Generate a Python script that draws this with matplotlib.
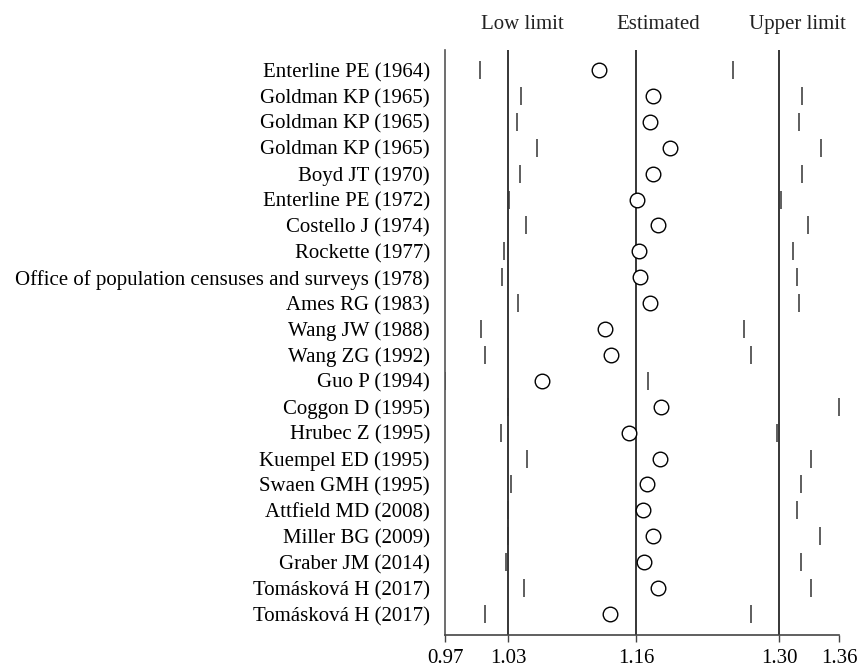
import numpy as np
import matplotlib
matplotlib.use('Agg')
import matplotlib.pyplot as plt

# Data
#######

studies = [
    'Enterline PE (1964)', 'Goldman KP (1965)', 'Goldman KP (1965)',
    'Goldman KP (1965)', 'Boyd JT (1970)', 'Enterline PE (1972)',
    'Costello J (1974)', 'Rockette (1977)',
    'Office of population censuses and surveys (1978)', 'Ames RG (1983)',
    'Wang JW (1988)', 'Wang ZG (1992)', 'Guo P (1994)', 'Coggon D (1995)',
    'Hrubec Z (1995)', 'Kuempel ED (1995)', 'Swaen GMH (1995)',
    'Attfield MD (2008)', 'Miller BG (2009)', 'Graber JM (2014)',
    'Tomásková H (2017)', 'Tomásková H (2017)',
]

low = [1.005, 1.045, 1.041, 1.061, 1.044, 1.033, 1.050, 1.028, 1.026, 1.042,
       1.006, 1.010, 0.970, 1.032, 1.025, 1.051, 1.035, 1.032, 1.032, 1.030,
       1.048, 1.010]
est = [1.122, 1.176, 1.173, 1.193, 1.176, 1.160, 1.181, 1.162, 1.163, 1.173,
       1.128, 1.134, 1.066, 1.184, 1.152, 1.183, 1.170, 1.166, 1.176, 1.167,
       1.181, 1.133]
upp = [1.255, 1.323, 1.320, 1.342, 1.323, 1.303, 1.329, 1.314, 1.318, 1.320,
       1.266, 1.273, 1.171, 1.360, 1.299, 1.332, 1.322, 1.318, 1.341, 1.322,
       1.332, 1.273]

# pooled low / estimated / upper (lines)
pooled = [1.0324, 1.159, 1.301]
pooled_labels = ['Low limit', 'Estimated', 'Upper limit']

tick_pos = [0.97, 1.0324, 1.159, 1.301, 1.36]
tick_labels = ['0.97', '1.03', '1.16', '1.30', '1.36']

# Plot
#######

plt.rcParams['font.family'] = ['Liberation Serif', 'DejaVu Serif']

fig = plt.figure(figsize=(8.58, 6.67), dpi=100)
ax = fig.add_axes([0.5187, 0.048, 0.4592, 0.877])

y = np.arange(len(studies))

for p in pooled:
    ax.axvline(p, color='black', lw=1.1, zorder=1)

ax.plot(low, y, ls='none', marker='|', ms=12.5, mew=1.1, color='#333333', zorder=2)
ax.plot(upp, y, ls='none', marker='|', ms=12.5, mew=1.1, color='#333333', zorder=2)
ax.plot(est, y, ls='none', marker='o', ms=10.5, mew=1.0, mfc='white', mec='black', zorder=3)

# header labels above the lines
for xh, txt in zip([1.0462, 1.1808, 1.3184], pooled_labels):
    ax.text(xh, 1.043, txt, transform=ax.get_xaxis_transform(),
            ha='center', va='center', fontsize=15, color='#222222')

ax.set_xlim(0.97, 1.36)
ax.set_ylim(len(studies) - 1 + 0.81, -0.77)

ax.set_xticks(tick_pos)
ax.set_xticklabels(tick_labels, fontsize=15)
ax.set_yticks(y)
ax.set_yticklabels(studies, fontsize=15)

ax.tick_params(axis='y', length=0, pad=11)
ax.tick_params(axis='x', length=5, width=1, pad=5, color='#444444')

ax.spines['top'].set_visible(False)
ax.spines['right'].set_visible(False)
ax.spines['left'].set_color('#555555')
ax.spines['bottom'].set_color('#444444')
ax.spines['left'].set_linewidth(1.2)
ax.spines['bottom'].set_linewidth(1.2)

fig.savefig('out.png', dpi=100)
